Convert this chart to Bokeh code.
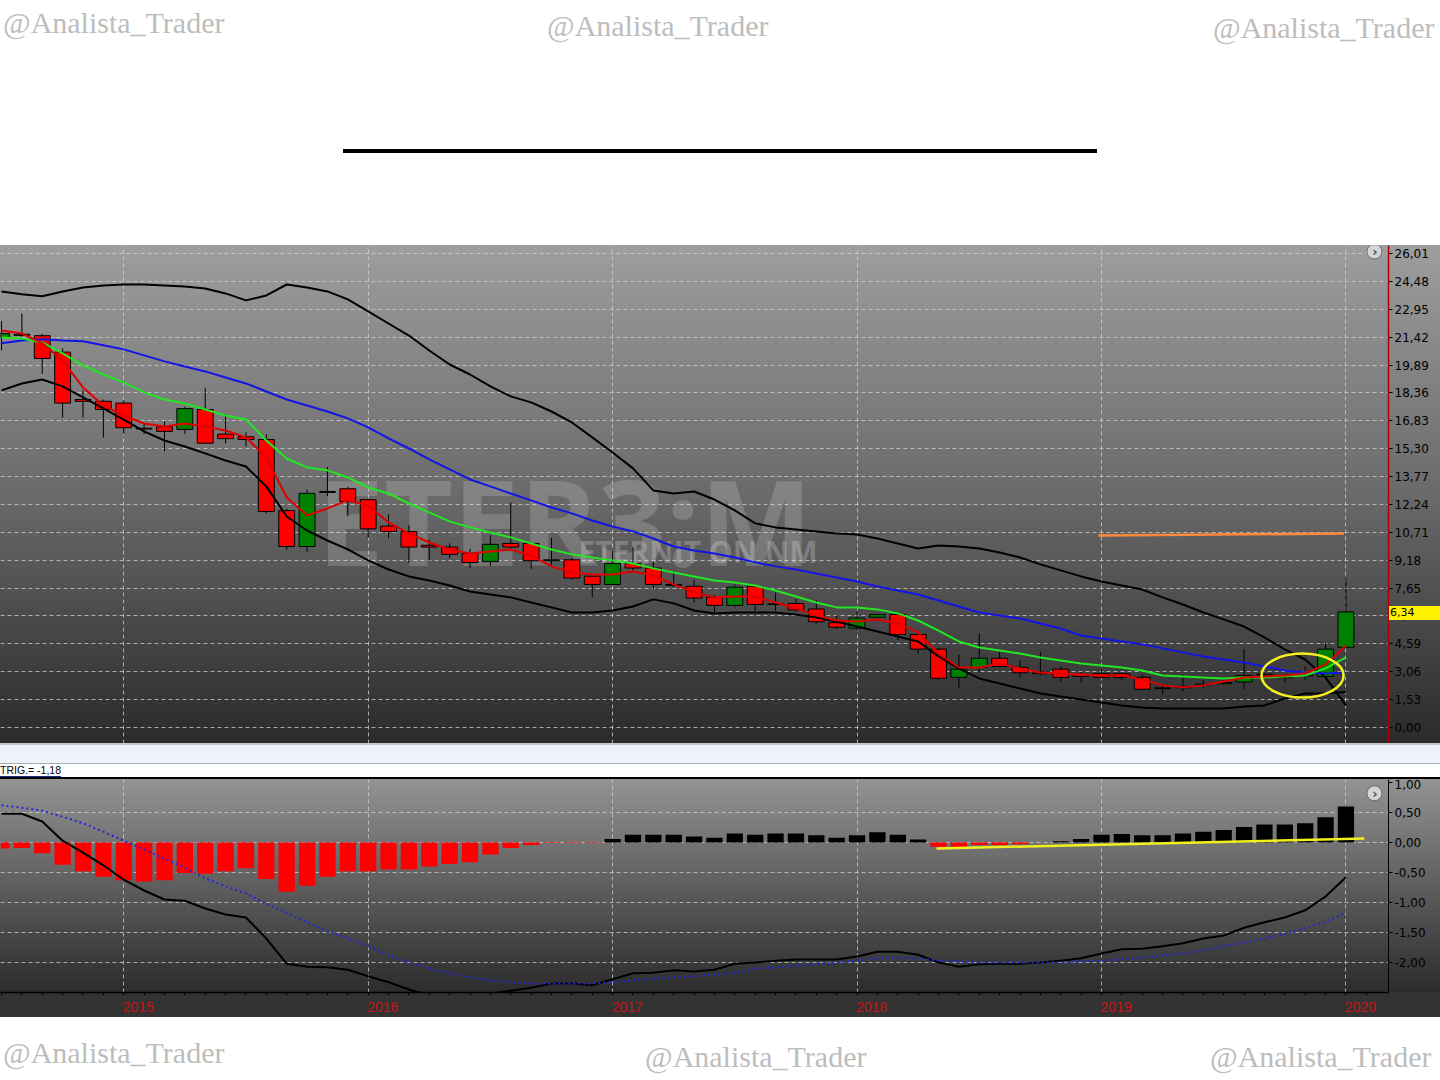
from bokeh.plotting import figure
from bokeh.models import Range1d, FixedTicker, ColumnDataSource, Div
from bokeh.layouts import column
from bokeh.embed import file_html
from bokeh.resources import INLINE
from bokeh.core.properties import value

# ---------------- DATA (monthly bars, Jul 2014 .. Jan 2020) ----------------
month_idx = list(range(67))
year_tick_idx = [6, 18, 30, 42, 54, 66]
year_labels = ["2015", "2016", "2017", "2018", "2019", "2020"]

opens = [21.40, 21.52, 21.50, 20.60, 18.00, 17.90, 17.80, 16.42, 16.50, 16.35,
         17.45, 16.10, 15.95, 15.80, 11.90, 9.93, 12.90, 13.10, 12.50, 11.05,
         10.75, 10.00, 9.90, 9.55, 9.10, 10.10, 10.10, 9.15, 9.20, 8.30,
         7.85, 9.00, 8.75, 7.85, 7.75, 7.15, 6.70, 7.75, 6.78, 6.80,
         6.50, 5.75, 5.45, 6.05, 6.20, 5.10, 4.30, 2.75, 3.30, 3.80,
         3.30, 3.05, 3.20, 2.90, 2.95, 2.95, 2.75, 2.17, 2.22, 2.33,
         2.40, 2.50, 2.88, 2.77, 2.83, 2.80, 4.40]
highs = [22.30, 22.72, 21.60, 20.80, 18.50, 18.00, 17.95, 16.70, 16.80, 17.60,
         18.65, 17.20, 16.20, 16.10, 12.00, 13.05, 14.30, 13.20, 12.55, 11.70,
         11.10, 10.30, 10.10, 9.80, 10.55, 12.35, 10.15, 10.40, 9.30, 8.35,
         9.70, 9.90, 9.10, 8.60, 8.10, 7.25, 7.85, 7.80, 7.40, 7.05,
         7.00, 6.15, 6.35, 6.25, 6.25, 5.15, 4.35, 4.00, 5.15, 4.15,
         3.70, 4.15, 3.35, 3.05, 3.20, 3.00, 2.90, 2.30, 2.90, 2.60,
         2.60, 4.30, 3.00, 2.90, 3.35, 4.65, 8.20]
lows = [20.70, 21.45, 19.40, 17.00, 17.00, 15.90, 16.10, 16.10, 15.15, 16.10,
        15.55, 15.60, 15.40, 11.75, 9.75, 9.65, 12.70, 11.60, 10.40, 10.40,
        9.05, 9.15, 9.30, 8.75, 8.85, 9.70, 8.70, 8.90, 8.10, 7.15,
        7.80, 8.60, 7.60, 7.70, 6.85, 6.25, 6.60, 6.40, 6.40, 6.35,
        5.70, 5.40, 5.30, 5.90, 4.80, 4.05, 2.60, 2.15, 3.00, 3.30,
        2.75, 2.85, 2.50, 2.45, 2.70, 2.60, 2.05, 1.85, 2.00, 2.20,
        2.35, 2.10, 2.75, 2.45, 2.60, 2.75, 4.35]
closes = [21.62, 21.58, 20.25, 17.80, 17.90, 17.45, 16.45, 16.38, 16.25, 17.50,
          15.60, 15.85, 15.80, 11.85, 9.93, 12.85, 12.95, 12.40, 10.90, 10.75,
          9.90, 9.90, 9.50, 9.05, 10.05, 9.90, 9.15, 9.20, 8.20, 7.85,
          9.00, 8.75, 7.85, 7.80, 7.10, 6.70, 7.70, 6.75, 6.75, 6.45,
          5.80, 5.50, 6.00, 6.20, 5.10, 4.30, 2.70, 3.20, 3.80, 3.35,
          3.00, 2.95, 2.75, 2.80, 2.75, 2.75, 2.10, 2.13, 2.18, 2.37,
          2.47, 2.85, 2.92, 2.73, 2.87, 4.30, 6.34]

ema_fast = [21.79, 21.62, 21.08, 20.14, 18.66, 17.67, 17.12, 16.68, 16.52, 16.68,
            16.52, 16.30, 15.92, 14.82, 12.62, 11.64, 12.02, 12.46, 12.18, 11.25,
            10.65, 10.15, 9.77, 9.55, 9.66, 9.77, 9.44, 8.84, 8.51, 8.40,
            8.40, 8.56, 8.34, 7.85, 7.41, 7.14, 7.19, 7.19, 6.86, 6.53,
            6.15, 5.87, 5.82, 5.93, 5.71, 5.21, 4.06, 3.29, 3.29, 3.51,
            3.24, 3.02, 2.96, 2.91, 2.85, 2.85, 2.63, 2.31, 2.20, 2.31,
            2.52, 2.74, 2.80, 2.85, 2.96, 3.46, 4.50]
ema_mid = [21.40, 21.35, 21.13, 20.53, 19.87, 19.37, 18.94, 18.39, 18.00, 17.78,
           17.45, 17.12, 16.90, 15.75, 14.76, 14.27, 14.11, 13.72, 13.17, 12.84,
           12.29, 11.80, 11.31, 10.98, 10.70, 10.43, 10.10, 9.77, 9.50, 9.33,
           9.17, 9.00, 8.73, 8.51, 8.29, 8.07, 7.96, 7.79, 7.52, 7.19,
           6.86, 6.59, 6.59, 6.48, 6.26, 5.87, 5.32, 4.72, 4.39, 4.23,
           4.06, 3.84, 3.68, 3.51, 3.40, 3.29, 3.13, 2.85, 2.80, 2.74,
           2.69, 2.74, 2.74, 2.80, 2.85, 3.24, 3.84]
ma20 = [21.08, 21.24, 21.30, 21.24, 21.19, 20.97, 20.75, 20.42, 20.09, 19.81,
        19.54, 19.21, 18.88, 18.44, 18.00, 17.67, 17.34, 16.96, 16.47, 15.86,
        15.31, 14.71, 14.16, 13.61, 13.23, 12.84, 12.46, 12.07, 11.75, 11.36,
        11.03, 10.76, 10.37, 9.93, 9.71, 9.55, 9.33, 9.06, 8.84, 8.67,
        8.45, 8.23, 8.01, 7.74, 7.52, 7.30, 6.97, 6.64, 6.31, 6.15,
        5.98, 5.71, 5.43, 5.05, 4.88, 4.72, 4.56, 4.34, 4.12, 3.90,
        3.73, 3.57, 3.35, 3.13, 3.02, 2.96, 3.02]
bb_upper = [23.93, 23.77, 23.66, 23.93, 24.15, 24.26, 24.31, 24.31, 24.26, 24.20,
            24.09, 23.82, 23.44, 23.71, 24.31, 24.15, 23.93, 23.49, 22.83, 22.17,
            21.51, 20.69, 19.92, 19.37, 18.72, 18.17, 17.84, 17.34, 16.74, 15.92,
            15.09, 14.22, 13.01, 12.84, 12.95, 12.51, 11.91, 11.20, 10.98, 10.87,
            10.76, 10.65, 10.59, 10.37, 10.10, 9.82, 9.99, 9.93, 9.82, 9.60,
            9.33, 8.95, 8.62, 8.29, 8.01, 7.79, 7.57, 7.14, 6.75, 6.31,
            5.93, 5.54, 4.94, 4.28, 3.73, 2.74, 1.21]
bb_lower = [18.50, 18.88, 19.10, 18.72, 18.11, 17.51, 16.90, 16.25, 15.75, 15.42,
            15.04, 14.65, 14.32, 13.23, 11.58, 10.81, 10.26, 9.77, 9.17, 8.67,
            8.29, 8.07, 7.79, 7.46, 7.30, 7.14, 6.86, 6.59, 6.31, 6.31,
            6.42, 6.64, 7.03, 6.81, 6.42, 6.26, 6.31, 6.31, 6.31, 6.20,
            6.04, 5.82, 5.54, 5.27, 4.99, 4.72, 3.90, 3.24, 2.69, 2.41,
            2.14, 1.87, 1.70, 1.54, 1.37, 1.21, 1.10, 1.04, 1.04, 1.04,
            1.04, 1.15, 1.21, 1.59, 1.87, 1.87, 1.95]

price_ticks = [0.00, 1.53, 3.06, 4.59, 6.12, 7.65, 9.18, 10.71, 12.24, 13.77,
               15.30, 16.83, 18.36, 19.89, 21.42, 22.95, 24.48, 26.01]
price_tick_labels = ["0,00", "1,53", "3,06", "4,59", "6,12", "7,65", "9,18", "10,71", "12,24",
                     "13,77", "15,30", "16,83", "18,36", "19,89", "21,42", "22,95", "24,48", "26,01"]
last_price = 6.34
last_price_label = "6,34"
resistance_x = [53.85, 65.9]
resistance_y = [10.54, 10.64]

hist = [-0.10, -0.09, -0.18, -0.37, -0.48, -0.57, -0.63, -0.65, -0.63, -0.51,
        -0.52, -0.48, -0.43, -0.61, -0.82, -0.72, -0.57, -0.48, -0.48, -0.45,
        -0.45, -0.40, -0.36, -0.33, -0.20, -0.09, -0.04, -0.01, -0.01, -0.01,
        0.06, 0.13, 0.13, 0.13, 0.10, 0.08, 0.15, 0.13, 0.15, 0.15,
        0.12, 0.08, 0.12, 0.17, 0.13, 0.05, -0.07, -0.09, -0.04, -0.04,
        -0.03, 0.00, 0.02, 0.06, 0.13, 0.14, 0.12, 0.12, 0.15, 0.18,
        0.21, 0.26, 0.30, 0.30, 0.32, 0.42, 0.60]
osc_line = [0.48, 0.48, 0.35, 0.03, -0.17, -0.38, -0.62, -0.80, -0.95, -0.97,
            -1.10, -1.20, -1.25, -1.60, -2.02, -2.07, -2.08, -2.12, -2.23, -2.33,
            -2.45, -2.55, -2.60, -2.58, -2.52, -2.47, -2.42, -2.35, -2.35, -2.38,
            -2.28, -2.18, -2.17, -2.13, -2.15, -2.12, -2.02, -2.00, -1.97, -1.95,
            -1.95, -1.95, -1.90, -1.82, -1.82, -1.87, -2.00, -2.07, -2.03, -2.02,
            -2.02, -2.00, -1.97, -1.93, -1.85, -1.78, -1.77, -1.73, -1.68, -1.60,
            -1.55, -1.42, -1.33, -1.25, -1.13, -0.90, -0.58]
trig_line = [0.62, 0.58, 0.53, 0.43, 0.32, 0.18, 0.03, -0.12, -0.27, -0.42,
             -0.60, -0.73, -0.85, -1.02, -1.17, -1.33, -1.48, -1.60, -1.73, -1.88,
             -2.00, -2.10, -2.18, -2.25, -2.30, -2.33, -2.35, -2.35, -2.35, -2.35,
             -2.33, -2.30, -2.27, -2.25, -2.23, -2.20, -2.18, -2.10, -2.08, -2.05,
             -2.03, -2.00, -1.97, -1.93, -1.92, -1.93, -1.97, -1.98, -2.00, -2.00,
             -2.00, -2.00, -2.00, -1.98, -1.97, -1.95, -1.92, -1.88, -1.85, -1.80,
             -1.72, -1.67, -1.60, -1.52, -1.43, -1.32, -1.17]
osc_ticks = [1.0, 0.5, 0.0, -0.5, -1.0, -1.5, -2.0]
osc_tick_labels = ["1,00", "0,50", "0,00", "-0,50", "-1,00", "-1,50", "-2,00"]
trend_x = [45.9, 66.9]
trend_y = [-0.10, 0.067]
trig_text = "TRIG.= -1,18"
watermark = "@Analista_Trader"

# ---------------- LAYOUT ----------------
W = 1440
FRAME_W = 1388
AX_W = W - FRAME_W
H_HEAD, H_PRICE, H_SEP, H_IND, H_FOOT = 245, 498, 36, 238, 63
AX_FONT = "DejaVu Sans"
GRID_COL = "#d2d2d2"
WM_STYLE = ("position:absolute;font-family:'Liberation Serif',serif;font-size:30px;"
            "line-height:30px;color:#bdbdbd;white-space:nowrap;")


def wm_span(left, top):
    return f'<span style="{WM_STYLE}left:{left}px;top:{top}px;">{watermark}</span>'


head = Div(width=W, height=H_HEAD, margin=0, text=(
    f'<div style="position:relative;width:{W}px;height:{H_HEAD}px;background:#fff;overflow:hidden;">'
    + wm_span(3, 8) + wm_span(547, 11) + wm_span(1213, 13)
    + '<div style="position:absolute;left:343px;top:149px;width:754px;height:4px;background:#000;"></div>'
    + '</div>'))

# price panel
xr = Range1d(-0.05, 68.09)
yr_price = Range1d(-0.88, 26.45)
p = figure(width=W, height=H_PRICE, x_range=xr, y_range=yr_price,
           output_backend="svg", toolbar_location=None, min_border=0,
           min_border_right=AX_W, x_axis_location=None, y_axis_location="right")
p.outline_line_color = None
p.background_fill_color = None
p.border_fill_color = None
p.styles = {"background": "linear-gradient(to bottom, #9e9e9e 0%, #6a6a6a 50%, #2a2a2a 100%)"}

ya = p.yaxis[0]
ya.ticker = FixedTicker(ticks=price_ticks)
ya.major_label_overrides = dict(zip(price_ticks, price_tick_labels))
ya.axis_line_color = "#b00000"
ya.axis_line_width = 1.5
ya.major_tick_line_color = "black"
ya.major_tick_out = 4
ya.major_tick_in = 0
ya.minor_tick_line_color = None
ya.major_label_text_font = AX_FONT
ya.major_label_text_font_size = "12px"
ya.major_label_text_color = "black"
ya.major_label_standoff = 2

p.ygrid.ticker = FixedTicker(ticks=price_ticks)
p.xgrid.ticker = FixedTicker(ticks=year_tick_idx)
for g in (p.xgrid, p.ygrid):
    g.grid_line_color = GRID_COL
    g.grid_line_alpha = 0.75
    g.grid_line_dash = "4 3"
    g.grid_line_width = 1

p.text(x=[39.8], y=[11.36], text=["ETER3:M"], text_align="right", text_baseline="alphabetic",
       text_font=value("Open Sans"), text_font_style="bold", text_font_size="119px",
       text_color="white", text_alpha=0.17)
p.text(x=[40.06], y=[9.66], text=["ETERNIT ON NM"], text_align="right", text_baseline="alphabetic",
       text_font=value("Open Sans"), text_font_style="bold", text_font_size="30px",
       text_color="white", text_alpha=0.22)

tops = [max(o, c) for o, c in zip(opens, closes)]
bots = [min(o, c) for o, c in zip(opens, closes)]
cols = ["#008000" if c >= o else "#ff0000" for o, c in zip(opens, closes)]
src = ColumnDataSource(dict(x=month_idx, h=highs, l=lows, top=tops, bottom=bots, color=cols))
p.segment(x0="x", y0="l", x1="x", y1="h", source=src, line_color="black", line_width=1)
p.vbar(x="x", width=0.78, top="top", bottom="bottom", fill_color="color",
       line_color="black", line_width=1, source=src)

p.line(month_idx, bb_upper, line_color="black", line_width=2)
p.line(month_idx, bb_lower, line_color="black", line_width=2)
p.line(month_idx, ma20, line_color="#1414e6", line_width=2)
p.line(month_idx, ema_mid, line_color="#22e622", line_width=2)
p.line(month_idx, ema_fast, line_color="#e00000", line_width=2)

p.line(resistance_x, resistance_y, line_color="#ff8a3c", line_width=2.5)
p.ellipse(x=[63.87], y=[2.85], width=[4.03], height=[2.41], fill_color=None,
          line_color="#f5f020", line_width=2.5)

p.scatter(x=[67.4], y=[26.12], size=15, marker="circle", fill_color="#d4d4d4", line_color="#6a6a6a")
p.text(x=[67.42], y=[26.12], text=["›"], text_align="center", text_baseline="middle",
       text_font=value("DejaVu Sans"), text_font_style="bold", text_font_size="13px", text_color="#505050")

# last-price marker on the price axis (box height 14px centred on the last close)
px_per_unit = H_PRICE / (yr_price.end - yr_price.start)
box_top = int(round((yr_price.end - last_price) * px_per_unit - 7))
box_h = 14
last_box = Div(width=AX_W - 1, height=box_h,
               margin=(box_top - H_PRICE, 0, H_PRICE - box_top - box_h, FRAME_W + 1),
               styles={"position": "relative", "z-index": "10"},
               text=(f'<div style="width:{AX_W - 1}px;height:{box_h}px;background:#fff200;'
                     f"font-family:'DejaVu Sans',sans-serif;font-size:11px;line-height:{box_h}px;"
                     f'color:#000;padding-left:1px;box-sizing:border-box;">{last_price_label}</div>'))

# separator
sep = Div(width=W, height=H_SEP, margin=0, text=(
    f'<div style="position:relative;width:{W}px;height:{H_SEP}px;background:#fff;overflow:hidden;">'
    '<div style="position:absolute;left:0;top:0;width:100%;height:2px;background:#c4c8ce;"></div>'
    '<div style="position:absolute;left:0;top:2px;width:100%;height:18px;background:#eef3fa;"></div>'
    '<div style="position:absolute;left:0;top:20px;width:100%;height:1px;background:#a9adb3;"></div>'
    "<span style=\"position:absolute;left:0;top:22px;font-family:'Liberation Sans',sans-serif;"
    "font-size:10.5px;line-height:11px;color:#000;border-bottom:1px solid #1a2a8a;white-space:nowrap;\">"
    + trig_text + '</span>'
    '<div style="position:absolute;left:0;top:34px;width:100%;height:2px;background:#000;"></div>'
    '</div>'))

# indicator panel
q = figure(width=W, height=H_IND, x_range=xr, y_range=Range1d(-2.5, 1.05),
           output_backend="svg", toolbar_location=None, min_border=0,
           min_border_right=AX_W, min_border_bottom=25,
           x_axis_location="below", y_axis_location="right")
q.outline_line_color = None
q.background_fill_color = None
q.border_fill_color = None
q.styles = {"background": "linear-gradient(to bottom, #939393 0px, #5e5e5e 106px, #2c2c2c 213px, #333333 213px, #333333 100%)"}

qy = q.yaxis[0]
qy.ticker = FixedTicker(ticks=osc_ticks)
qy.major_label_overrides = dict(zip(osc_ticks, osc_tick_labels))
qy.axis_line_color = "black"
qy.major_tick_line_color = "black"
qy.major_tick_out = 4
qy.major_tick_in = 0
qy.minor_tick_line_color = None
qy.major_label_text_font = AX_FONT
qy.major_label_text_font_size = "12px"
qy.major_label_text_color = "black"
qy.major_label_standoff = 2

# year labels sit just right of the January tick
label_pos = [t + 0.72 for t in year_tick_idx]
qx = q.xaxis[0]
qx.ticker = FixedTicker(ticks=label_pos, minor_ticks=month_idx + [67])
qx.major_label_overrides = dict(zip(label_pos, year_labels))
qx.axis_line_color = "black"
qx.axis_line_width = 1.5
qx.major_tick_line_color = None
qx.minor_tick_line_color = "black"
qx.minor_tick_out = 3
qx.minor_tick_in = 0
qx.major_label_text_color = "#c81414"
qx.major_label_text_font = "Liberation Sans"
qx.major_label_text_font_size = "14px"
qx.major_label_standoff = 3

q.xgrid.ticker = FixedTicker(ticks=year_tick_idx)
q.ygrid.ticker = FixedTicker(ticks=osc_ticks[1:])
for g in (q.xgrid, q.ygrid):
    g.grid_line_color = GRID_COL
    g.grid_line_alpha = 0.75
    g.grid_line_dash = "4 3"
    g.grid_line_width = 1

htop = [max(v, 0) for v in hist]
hbot = [min(v, 0) for v in hist]
hcol = ["black" if v > 0 else "#ff0000" for v in hist]
q.vbar(x=month_idx, width=0.8, top=htop, bottom=hbot, fill_color=hcol, line_color=None)
q.line(month_idx, osc_line, line_color="black", line_width=2)
q.line(month_idx, trig_line, line_color="#2626d8", line_width=2, line_dash="2 3")
q.line(trend_x, trend_y, line_color="#f0f01e", line_width=2.5)
q.scatter(x=[67.4], y=[0.82], size=15, marker="circle", fill_color="#d4d4d4", line_color="#6a6a6a")
q.text(x=[67.42], y=[0.82], text=["›"], text_align="center", text_baseline="middle",
       text_font=value("DejaVu Sans"), text_font_style="bold", text_font_size="13px", text_color="#505050")

foot = Div(width=W, height=H_FOOT, margin=0, text=(
    f'<div style="position:relative;width:{W}px;height:{H_FOOT}px;background:#fff;overflow:hidden;">'
    + wm_span(3, 21) + wm_span(645, 25) + wm_span(1210, 25)
    + '</div>'))

layout = column(head, p, last_box, sep, q, foot, spacing=0)
open("out.html", "w").write(file_html(layout, INLINE))
